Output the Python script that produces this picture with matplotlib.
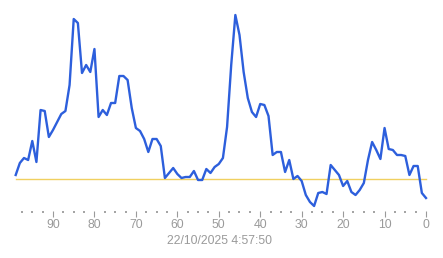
import matplotlib
matplotlib.use("Agg")
import matplotlib.pyplot as plt
from matplotlib.ticker import MultipleLocator

# samples counted back from now (99 .. 0)
ago = list(range(99, -1, -1))
values = [
    39, 51, 56, 54, 73, 52, 104, 103, 77, 84,
    92, 100, 103, 129, 195, 191, 141, 149, 142, 165,
    97, 104, 99, 111, 111, 138, 138, 134, 106, 86,
    83, 75, 62, 75, 75, 68, 36, 41, 46, 40,
    36, 37, 37, 43, 34, 34, 45, 41, 47, 50,
    56, 87, 149, 199, 179, 142, 116, 102, 97, 110,
    109, 98, 59, 62, 62, 42, 54, 35, 38, 33,
    19, 12, 8, 21, 22, 20, 49, 44, 39, 28,
    33, 22, 19, 24, 31, 54, 72, 64, 55, 86,
    65, 64, 59, 59, 58, 39, 48, 48, 21, 16,
]
threshold = 35
timestamp = "22/10/2025 4:57:50"

W, H = 443, 258
fig = plt.figure(figsize=(W / 100, H / 100), dpi=100)
left, right, top, bottom = 15.7, 426.0, 10.0, 211.0
ax = fig.add_axes([left / W, 1 - bottom / H, (right - left) / W, (bottom - top) / H])

ax.plot([99, 0], [threshold, threshold], color="#f0d060", lw=1.0, clip_on=False)
ax.plot(ago, values, color="#2d5fdc", lw=1.7, clip_on=False, solid_joinstyle="round")

ax.set_xlim(99, 0)
ax.set_ylim(214 - bottom, 214 - top)

for s in ax.spines.values():
    s.set_visible(False)
ax.set_yticks([])
ax.xaxis.set_major_locator(MultipleLocator(10))
ax.xaxis.set_minor_locator(MultipleLocator(2.5))
ax.tick_params(axis="x", which="major", length=4.5, width=0.8, color="#9a9a9a",
               labelcolor="#9a9a9a", labelsize=8.8, pad=1.5)
ax.tick_params(axis="x", which="minor", length=1.2, width=1.1, color="#8a8a8a")
for lab in ax.get_xticklabels():
    lab.set_family("Liberation Sans")

fig.text(219.5 / W, 1 - 241 / H, timestamp, ha="center", va="center",
         fontsize=8.8, color="#9a9a9a", family="Liberation Sans")

fig.savefig("out.png", dpi=100)
